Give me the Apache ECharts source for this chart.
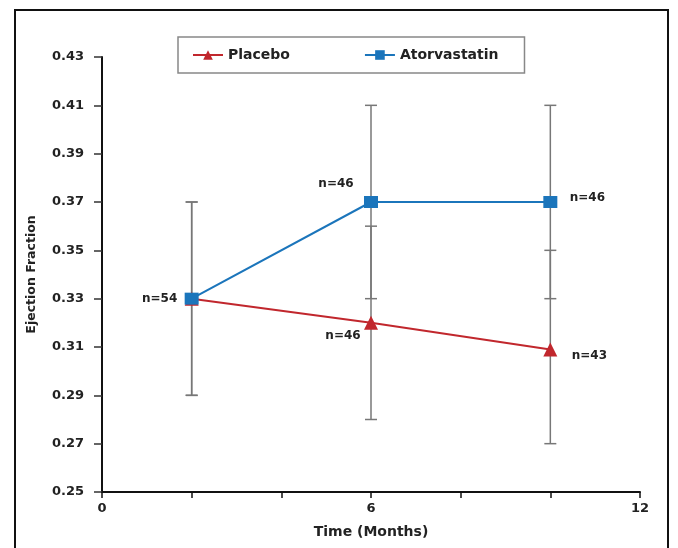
<!DOCTYPE html>
<html><head><meta charset="utf-8">
<script src="https://cdn.jsdelivr.net/npm/echarts@6/dist/echarts.min.js"></script>
<style>html,body{margin:0;padding:0;background:#fff}#c{width:678px;height:548px}</style>
</head><body><div id="c"></div>
<script>
const months = [2, 6, 10];
const placebo = [0.33, 0.32, 0.309];
const placeboLow = [0.29, 0.28, 0.27];
const placeboHigh = [0.37, 0.36, 0.35];
const atorva = [0.33, 0.37, 0.37];
const atorvaLow = [0.29, 0.33, 0.33];
const atorvaHigh = [0.37, 0.41, 0.41];
const placeboN = [54, 46, 43];
const atorvaN = [54, 46, 46];
const yTicks = [0.25, 0.27, 0.29, 0.31, 0.33, 0.35, 0.37, 0.39, 0.41, 0.43];
const xLabels = [0, 6, 12];

const FONT = "'DejaVu Sans',sans-serif";
const RED = '#c1272d', BLUE = '#1b75bb';

function errData(lo, hi) { return months.map((m, i) => [m, lo[i], hi[i]]); }
function errSeries(lo, hi) {
  return {
    type: 'custom', z: 1, silent: true,
    data: errData(lo, hi),
    renderItem: function (params, api) {
      const x = api.value(0);
      const a = api.coord([x, api.value(1)]);
      const b = api.coord([x, api.value(2)]);
      const w = 6;
      const st = { stroke: '#777', lineWidth: 1.5 };
      return { type: 'group', children: [
        { type: 'line', shape: { x1: a[0], y1: a[1], x2: b[0], y2: b[1] }, style: st },
        { type: 'line', shape: { x1: a[0] - w, y1: a[1], x2: a[0] + w, y2: a[1] }, style: st },
        { type: 'line', shape: { x1: b[0] - w, y1: b[1], x2: b[0] + w, y2: b[1] }, style: st }
      ]};
    }
  };
}
const lblBase = { show: true, fontFamily: FONT, fontWeight: 'bold', fontSize: 12, color: '#222' };
const placeboLabels = [
  { show: false },
  Object.assign({}, lblBase, { position: 'inside', offset: [-28, 13] }),
  Object.assign({}, lblBase, { position: 'inside', offset: [39, 6] })
];
const atorvaLabels = [
  Object.assign({}, lblBase, { position: 'inside', offset: [-32, 0] }),
  Object.assign({}, lblBase, { position: 'inside', offset: [-35, -18] }),
  Object.assign({}, lblBase, { position: 'inside', offset: [37, -4] })
];

const chart = echarts.init(document.getElementById('c'));
chart.setOption({
  animation: false,
  graphic: [{ type: 'rect', shape: { x: 15, y: 10, width: 653, height: 560 }, style: { fill: 'none', stroke: '#111', lineWidth: 2 }, z: 100 }],
  legend: {
    left: 178, top: 37, itemGap: 74, itemWidth: 30, itemHeight: 12,
    padding: [11, 26, 11, 14],
    borderColor: '#888', borderWidth: 1.5,
    textStyle: { fontFamily: FONT, fontWeight: 'bold', fontSize: 14, color: '#222' },
    data: ['Placebo', 'Atorvastatin']
  },
  grid: { left: 102, right: 38, top: 57, bottom: 56 },
  xAxis: {
    type: 'value', min: 0, max: 12, interval: 2,
    name: 'Time (Months)', nameLocation: 'middle', nameGap: 33,
    nameTextStyle: { fontFamily: FONT, fontWeight: 'bold', fontSize: 14, color: '#222' },
    axisLine: { lineStyle: { color: '#111', width: 2 } },
    axisTick: { length: 6, lineStyle: { color: '#111', width: 1.5 } },
    axisLabel: { customValues: xLabels, fontFamily: FONT, fontWeight: 'bold', fontSize: 13, color: '#222', margin: 10 },
    splitLine: { show: false }
  },
  yAxis: {
    type: 'value', min: 0.25, max: 0.43,
    name: 'Ejection Fraction', nameLocation: 'middle', nameGap: 64, nameRotate: 90,
    nameTextStyle: { fontFamily: FONT, fontWeight: 'bold', fontSize: 12.5, color: '#222' },
    axisLine: { show: true, lineStyle: { color: '#111', width: 2 } },
    axisTick: { show: true, length: 8, customValues: yTicks, lineStyle: { color: '#333', width: 1.5 } },
    axisLabel: { customValues: yTicks, formatter: v => v.toFixed(2), fontFamily: FONT, fontWeight: 'bold', fontSize: 13, color: '#222', margin: 18 },
    splitLine: { show: false }
  },
  series: [
    errSeries(placeboLow, placeboHigh),
    errSeries(atorvaLow, atorvaHigh),
    {
      name: 'Placebo', type: 'line', z: 3,
      symbol: 'triangle', symbolSize: 14,
      itemStyle: { color: RED }, lineStyle: { color: RED, width: 2 },
      data: months.map((m, i) => ({ value: [m, placebo[i]], label: Object.assign({ formatter: 'n=' + placeboN[i] }, placeboLabels[i]) }))
    },
    {
      name: 'Atorvastatin', type: 'line', z: 4,
      symbol: 'rect', symbolSize: [14, 12],
      itemStyle: { color: BLUE }, lineStyle: { color: BLUE, width: 2 },
      data: months.map((m, i) => ({ value: [m, atorva[i]], label: Object.assign({ formatter: 'n=' + atorvaN[i] }, atorvaLabels[i]) }))
    }
  ]
});
</script></body></html>
